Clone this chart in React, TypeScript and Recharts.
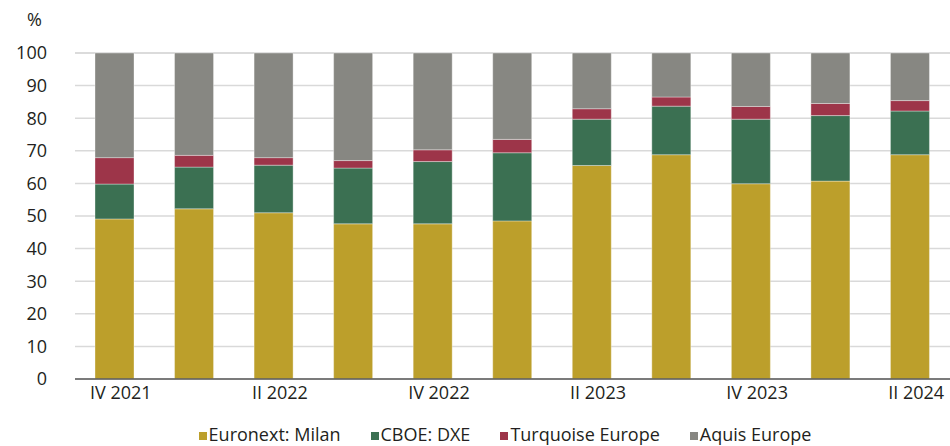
import React from 'react';
import { Bar, BarChart, CartesianGrid, XAxis, YAxis } from 'recharts';

const quarters = [
  'IV 2021', 'I 2022', 'II 2022', 'III 2022', 'IV 2022', 'I 2023',
  'II 2023', 'III 2023', 'IV 2023', 'I 2024', 'II 2024',
];
const euronextMilan = [49.1, 52.2, 51.0, 47.6, 47.6, 48.5, 65.5, 68.8, 59.9, 60.7, 68.8];
const cboeDxe = [10.7, 12.8, 14.6, 17.1, 19.1, 20.9, 14.2, 14.9, 19.8, 20.1, 13.4];
const turquoiseEurope = [8.1, 3.6, 2.3, 2.3, 3.6, 4.1, 3.2, 2.8, 3.9, 3.7, 3.2];
const aquisEurope = [32.1, 31.4, 32.1, 33.0, 29.7, 26.5, 17.1, 13.5, 16.4, 15.5, 14.6];
const yTicks = [0, 10, 20, 30, 40, 50, 60, 70, 80, 90, 100];

const SERIES = [
  { key: 'euronext', name: 'Euronext: Milan', color: '#bc9f2b', values: euronextMilan },
  { key: 'cboe', name: 'CBOE: DXE', color: '#3b7052', values: cboeDxe },
  { key: 'turquoise', name: 'Turquoise Europe', color: '#9d3549', values: turquoiseEurope },
  { key: 'aquis', name: 'Aquis Europe', color: '#878782', values: aquisEurope },
];

const data = quarters.map((q, i) => {
  const row: Record<string, string | number> = { quarter: q };
  SERIES.forEach((s) => {
    row[s.key] = s.values[i];
  });
  return row;
});

const FONT = '"Open Sans", "Noto Sans", sans-serif';
const TEXT = '#231f20';

export default function App() {
  return (
    <div style={{ position: 'relative', width: 950, height: 446, fontFamily: FONT, background: '#fff' }}>
      <style>{`body{margin:0}`}</style>
      <div style={{ position: 'absolute', left: 27, top: 7, fontSize: 18, color: TEXT }}>%</div>
      <BarChart
        width={950}
        height={446}
        data={data}
        margin={{ top: 53, right: 0, left: 15, bottom: 37 }}
        barSize={39}
      >
        <CartesianGrid vertical={false} stroke="#d9d9d9" strokeWidth={1.5} />
        <XAxis
          dataKey="quarter"
          interval={1}
          height={30}
          tickLine={false}
          axisLine={{ stroke: '#595959', strokeWidth: 1.5 }}
          tick={{ fontSize: 18, fill: TEXT, fontFamily: FONT, dx: 6 }}
          tickMargin={1}
        />
        <YAxis
          width={60}
          domain={[0, 100]}
          ticks={yTicks}
          axisLine={false}
          tickLine={false}
          tickMargin={22}
          tick={{ fontSize: 18, fill: TEXT, fontFamily: FONT }}
        />
        {SERIES.map((s) => (
          <Bar
            key={s.key}
            dataKey={s.key}
            name={s.name}
            stackId="a"
            fill={s.color}
            stroke="rgba(255,255,255,0.35)"
            strokeWidth={1}
            isAnimationActive={false}
          />
        ))}
      </BarChart>
      <div
        style={{
          position: 'absolute',
          left: 0,
          top: 422,
          width: 1010,
          display: 'flex',
          justifyContent: 'center',
          gap: 30,
          fontSize: 18,
          color: TEXT,
          lineHeight: '24px',
        }}
      >
        {SERIES.map((s) => (
          <div key={s.key} style={{ display: 'flex', alignItems: 'center' }}>
            <span
              style={{ display: 'inline-block', width: 8, height: 8, background: s.color, marginRight: 2, marginTop: 4 }}
            />
            <span>{s.name}</span>
          </div>
        ))}
      </div>
    </div>
  );
}
